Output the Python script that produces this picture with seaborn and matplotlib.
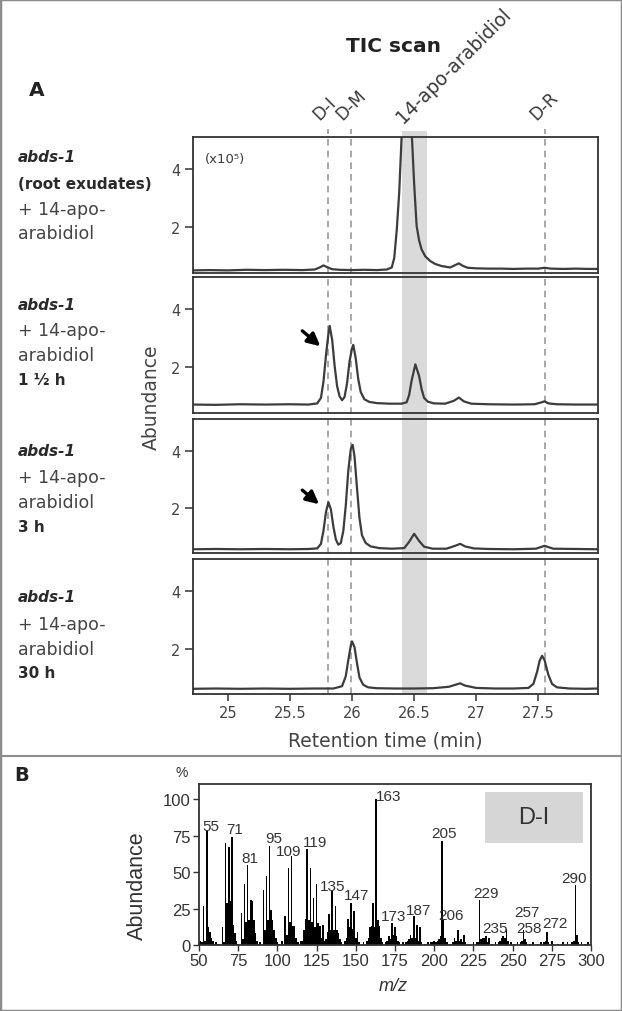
import matplotlib
matplotlib.use("Agg")
import matplotlib.pyplot as plt
import matplotlib.transforms as mtransforms
from matplotlib.patches import Rectangle
from matplotlib.lines import Line2D
import seaborn as sns

# ---------------- data ----------------
rt_ticks = [25, 25.5, 26, 26.5, 27, 27.5]
rt_tick_labels = ["25", "25.5", "26", "26.5", "27", "27.5"]
abund_ticks = [2, 4]
peak_names = ["D-I", "D-M", "D-R"]
peak_rt = [25.81, 25.99, 27.55]
apo_name = "14-apo-arabidiol"
apo_band = [26.40, 26.60]

t_root = [24.72, 24.85, 25.0, 25.15, 25.3, 25.45, 25.6, 25.7, 25.74, 25.77, 25.80, 25.84, 25.9, 26.0, 26.1,
          26.2, 26.28, 26.32, 26.34, 26.36, 26.38, 26.40, 26.44, 26.48, 26.50, 26.52, 26.54, 26.56, 26.59,
          26.63, 26.67, 26.72, 26.79, 26.83, 26.86, 26.89, 26.93, 27.0, 27.1, 27.2, 27.3, 27.4, 27.5, 27.55,
          27.6, 27.7, 27.8, 27.9, 27.98]
a_root = [0.52, 0.53, 0.52, 0.54, 0.53, 0.54, 0.53, 0.55, 0.62, 0.69, 0.63, 0.56, 0.54, 0.53, 0.54,
          0.53, 0.55, 0.62, 0.95, 1.9, 3.2, 5.2, 8.0, 5.3, 3.5, 2.05, 1.55, 1.24, 1.0,
          0.84, 0.74, 0.67, 0.62, 0.70, 0.76, 0.68, 0.61, 0.59, 0.58, 0.58, 0.57, 0.58, 0.58, 0.61,
          0.58, 0.57, 0.58, 0.57, 0.57]

t_15h = [24.72, 24.9, 25.1, 25.3, 25.5, 25.65, 25.72, 25.75, 25.77, 25.79, 25.81, 25.82, 25.84, 25.86,
         25.88, 25.90, 25.92, 25.94, 25.96, 25.98, 26.00, 26.01, 26.03, 26.05, 26.07, 26.10, 26.14, 26.2,
         26.3, 26.4, 26.44, 26.46, 26.48, 26.51, 26.54, 26.56, 26.58, 26.61, 26.66, 26.75, 26.82, 26.86,
         26.9, 26.96, 27.1, 27.3, 27.47, 27.52, 27.55, 27.58, 27.65, 27.8, 27.98]
a_15h = [0.72, 0.71, 0.73, 0.72, 0.73, 0.72, 0.76, 0.95, 1.5, 2.4, 3.15, 3.42, 2.95, 2.05,
         1.35, 1.0, 0.87, 0.98, 1.45, 2.2, 2.65, 2.77, 2.3, 1.6, 1.15, 0.9, 0.81, 0.77,
         0.75, 0.75, 0.8, 1.05, 1.55, 2.1, 1.7, 1.25, 0.95, 0.82, 0.76, 0.75, 0.85, 0.96,
         0.83, 0.75, 0.73, 0.72, 0.73, 0.79, 0.83, 0.76, 0.73, 0.72, 0.72]

t_3h = [24.72, 24.9, 25.1, 25.3, 25.5, 25.65, 25.72, 25.75, 25.77, 25.79, 25.81, 25.83, 25.85, 25.87,
        25.89, 25.91, 25.93, 25.95, 25.97, 25.99, 26.005, 26.02, 26.04, 26.06, 26.08, 26.11, 26.15, 26.22,
        26.32, 26.42, 26.46, 26.50, 26.54, 26.58, 26.65, 26.76, 26.83, 26.87, 26.91, 26.98, 27.1, 27.3,
        27.48, 27.55, 27.62, 27.8, 27.98]
a_3h = [0.56, 0.57, 0.56, 0.57, 0.56, 0.57, 0.59, 0.75, 1.2, 1.85, 2.2, 1.95, 1.35, 0.9,
        0.72, 0.78, 1.2, 2.1, 3.3, 4.05, 4.2, 3.8, 2.7, 1.65, 1.05, 0.78, 0.66, 0.6,
        0.58, 0.6, 0.82, 1.1, 0.85, 0.65, 0.58, 0.58, 0.68, 0.75, 0.66, 0.59, 0.57, 0.56,
        0.58, 0.68, 0.58, 0.57, 0.56]

t_30h = [24.72, 24.9, 25.1, 25.3, 25.5, 25.7, 25.85, 25.92, 25.95, 25.97, 25.99, 26.00, 26.02, 26.04,
         26.06, 26.09, 26.13, 26.2, 26.35, 26.5, 26.65, 26.78, 26.84, 26.87, 26.91, 27.0, 27.15, 27.3,
         27.42, 27.46, 27.49, 27.51, 27.53, 27.55, 27.58, 27.61, 27.65, 27.75, 27.88, 27.98]
a_30h = [0.61, 0.62, 0.61, 0.62, 0.61, 0.62, 0.62, 0.7, 1.05, 1.6, 2.1, 2.25, 2.05, 1.5,
         1.0, 0.75, 0.66, 0.63, 0.62, 0.62, 0.63, 0.68, 0.76, 0.8, 0.72, 0.64, 0.62, 0.62,
         0.64, 0.78, 1.2, 1.58, 1.75, 1.6, 1.1, 0.78, 0.66, 0.62, 0.61, 0.62]

sample_text = [
    [("abds-1", "bi"), ("(root exudates)", "b"), ("+ 14-apo-", "r"), ("arabidiol", "r")],
    [("abds-1", "bi"), ("+ 14-apo-", "r"), ("arabidiol", "r"), ("1 ½ h", "b")],
    [("abds-1", "bi"), ("+ 14-apo-", "r"), ("arabidiol", "r"), ("3 h", "b")],
    [("abds-1", "bi"), ("+ 14-apo-", "r"), ("arabidiol", "r"), ("30 h", "b")],
]

# mass spectrum of D-I
spec_mz = [50, 51, 52, 53, 54, 55, 56, 57, 58, 59,
           60, 61, 62, 63, 65, 66, 67, 68, 69, 70,
           71, 72, 73, 74, 75, 77, 78, 79, 80, 81,
           82, 83, 84, 85, 86, 87, 88, 89, 91, 92,
           93, 94, 95, 96, 97, 98, 99, 100, 101, 103,
           105, 106, 107, 108, 109, 110, 111, 112, 113, 115,
           116, 117, 118, 119, 120, 121, 122, 123, 124, 125,
           126, 127, 128, 129, 130, 131, 132, 133, 134, 135,
           136, 137, 138, 139, 140, 141, 143, 144, 145, 146,
           147, 148, 149, 150, 151, 152, 155, 157, 158, 159,
           160, 161, 162, 163, 164, 165, 166, 167, 169, 170,
           171, 172, 173, 174, 175, 176, 177, 178, 180, 181,
           182, 183, 184, 185, 186, 187, 188, 189, 190, 191,
           192, 194, 196, 198, 199, 200, 201, 202, 203, 204,
           205, 206, 207, 208, 210, 212, 213, 214, 215, 216,
           217, 218, 219, 220, 222, 225, 227, 228, 229, 230,
           231, 232, 233, 234, 235, 237, 239, 241, 242, 243,
           244, 245, 246, 247, 249, 251, 253, 255, 256, 257,
           258, 259, 261, 263, 266, 268, 270, 271, 272, 273,
           275, 276, 279, 282, 285, 288, 289, 290, 291, 292,
           294, 296, 298]
spec_int = [2, 3, 2, 27, 3, 78, 12, 9, 5, 3,
            1, 2, 1, 1, 12, 2, 70, 29, 67, 30,
            74, 14, 8, 3, 1, 22, 4, 42, 16, 55,
            17, 31, 30, 17, 8, 3, 1, 2, 38, 10,
            47, 17, 68, 24, 17, 10, 5, 2, 1, 3,
            20, 7, 53, 16, 61, 13, 13, 5, 2, 3,
            3, 10, 18, 66, 17, 53, 16, 32, 12, 42,
            15, 13, 5, 14, 3, 4, 9, 21, 10, 37,
            10, 27, 10, 8, 4, 2, 3, 5, 18, 12,
            29, 11, 23, 5, 9, 2, 2, 3, 5, 12,
            13, 29, 12, 100, 17, 13, 5, 2, 2, 3,
            6, 4, 15, 7, 12, 6, 3, 2, 2, 1,
            2, 3, 4, 7, 5, 20, 5, 14, 3, 12,
            2, 1, 2, 2, 2, 3, 2, 3, 4, 6,
            71, 17, 5, 2, 1, 2, 5, 3, 10, 3,
            4, 2, 7, 2, 1, 2, 2, 2, 31, 4,
            5, 5, 6, 2, 5, 1, 2, 2, 3, 5,
            6, 5, 11, 3, 2, 1, 2, 2, 3, 10,
            4, 2, 1, 2, 1, 2, 2, 3, 9, 2,
            3, 1, 1, 2, 2, 2, 3, 41, 7, 2,
            2, 1, 2]
peak_labels = [55, 71, 81, 95, 109, 119, 135, 147, 163, 173, 187, 205, 206, 229, 235, 257, 258, 272, 290]
mz_ticks = [50, 75, 100, 125, 150, 175, 200, 225, 250, 275, 300]
pct_ticks = [0, 25, 50, 75, 100]

# ---------------- style ----------------
sns.set_theme(style="ticks")
plt.rcParams["font.family"] = ["DejaVu Sans"]
ARIAL = ["Liberation Sans", "DejaVu Sans"]
W, H = 622, 1012
fig = plt.figure(figsize=(W / 100, H / 100), dpi=100)
fig.patch.set_facecolor("white")


def fx(x):
    return x / W


def fy(y):
    return 1 - y / H


TXT = "#3a3a3a"
SPINE = "#333333"

# ---------------- panel A ----------------
panel_px = [(138, 274), (278, 414), (420, 554), (560, 695)]
traces = [(t_root, a_root), (t_15h, a_15h), (t_3h, a_3h), (t_30h, a_30h)]
L, R = 193, 598
axes = []
for i, ((top, bot), (tt, aa)) in enumerate(zip(panel_px, traces)):
    ax = fig.add_axes([fx(L), fy(bot), (R - L) / W, (bot - top) / H])
    ax.set_facecolor("none")
    sns.lineplot(x=tt, y=aa, ax=ax, color="#3c3c3c", linewidth=1.6, estimator=None, sort=False)
    ax.set_xlim(24.72, 27.98)
    ax.set_ylim(0.43, 5.1)
    ax.set_yticks(abund_ticks)
    ax.set_yticklabels([str(v) for v in abund_ticks])
    ax.set_xticks(rt_ticks)
    ax.set_xlabel("")
    ax.set_ylabel("")
    for s in ax.spines.values():
        s.set_visible(True)
        s.set_color(SPINE)
        s.set_linewidth(1.3)
    ax.tick_params(axis="y", direction="out", length=6, width=1.1, color=SPINE,
                   labelsize=10.5, labelcolor="#444444", pad=3)
    if i < 3:
        ax.tick_params(axis="x", bottom=False, labelbottom=False)
    else:
        ax.set_xticklabels(rt_tick_labels)
        ax.tick_params(axis="x", direction="out", length=5, width=1.1, color=SPINE,
                       labelsize=10.5, labelcolor="#444444", pad=3)
    axes.append(ax)

# dashed reference lines and highlighted band across all panels
trans = mtransforms.blended_transform_factory(axes[-1].transData, fig.transFigure)
for rt in peak_rt:
    fig.add_artist(Line2D([rt, rt], [fy(695), fy(130)], transform=trans, color="#9a9a9a",
                          lw=1.2, ls=(0, (4, 3)), zorder=-1))
fig.add_artist(Rectangle((apo_band[0], fy(695)), apo_band[1] - apo_band[0], fy(132) - fy(695),
                         transform=trans, facecolor="#dadada", edgecolor="none", zorder=-2))

# rotated peak names
for name, rt in zip(peak_names + [apo_name], peak_rt + [sum(apo_band) / 2]):
    if name == apo_name:
        dxp, fs, ypx = -8, 13.5, 127
    else:
        dxp, fs, ypx = -6, 12.5, 124
    axes[0].annotate(name, xy=(rt, fy(ypx)), xycoords=trans, xytext=(dxp * 0.72, 0),
                     textcoords="offset points", rotation=45, rotation_mode="anchor",
                     ha="left", va="bottom", fontsize=fs, color=TXT, annotation_clip=False)

axes[0].text(0.03, 0.84, "(x10⁵)", transform=axes[0].transAxes, fontsize=9.5, color=TXT,
             ha="left", va="center", family=["DejaVu Sans"])

# arrows
axes[1].annotate("", xy=(25.745, 2.72), xytext=(25.60, 3.25),
                 arrowprops=dict(arrowstyle="-|>", color="black", lw=2.4, mutation_scale=19,
                                 shrinkA=0, shrinkB=0))
axes[2].annotate("", xy=(25.735, 2.13), xytext=(25.60, 2.62),
                 arrowprops=dict(arrowstyle="-|>", color="black", lw=2.4, mutation_scale=19,
                                 shrinkA=0, shrinkB=0))

# sample descriptions at left
line_y = [[158, 185, 210, 234], [306, 331, 356, 381], [452, 478, 503, 528], [597, 625, 650, 673]]
for lines, ys in zip(sample_text, line_y):
    for (txt, kind), y in zip(lines, ys):
        if kind == "bi":
            kw = dict(weight="bold", style="italic", fontsize=11, color="#2a2a2a")
        elif kind == "b":
            kw = dict(weight="bold", fontsize=11, color="#2a2a2a")
        else:
            kw = dict(fontsize=12.5, color="#444444")
        fig.text(fx(18), fy(y), txt, ha="left", va="center", **kw)

fig.text(fx(393), fy(47), "TIC scan", ha="center", va="center", fontsize=14.5, weight="bold", color="#222222")
fig.text(fx(37), fy(91), "A", ha="center", va="center", fontsize=14.5, weight="bold", color="#222222")
fig.text(fx(151), fy(397), "Abundance", ha="center", va="center", rotation=90, fontsize=13.5, color="#444444")
fig.text(fx(385), fy(741), "Retention time (min)", ha="center", va="center", fontsize=13.5, color="#444444")

# ---------------- panel B ----------------
axB = fig.add_axes([fx(199), fy(946), (591 - 199) / W, (946 - 785) / H])
axB.set_facecolor("none")
sns.histplot(x=spec_mz, weights=spec_int, discrete=True, shrink=1.0, ax=axB,
             color="black", edgecolor="none", linewidth=0, alpha=1.0)
axB.set_xlim(50, 300)
axB.set_ylim(0, 110.3)
axB.set_xticks(mz_ticks)
axB.set_yticks(pct_ticks)
axB.set_xlabel("")
axB.set_ylabel("")
for s in axB.spines.values():
    s.set_visible(True)
    s.set_color(SPINE)
    s.set_linewidth(1.3)
axB.tick_params(axis="both", direction="out", length=4, width=1.0, color=SPINE,
                labelsize=12, labelcolor="#333333", pad=2)
for lab in axB.get_xticklabels() + axB.get_yticklabels():
    lab.set_family(ARIAL)

label_offsets = {55: (2.7, 1), 71: (1.5, 3), 81: (1.3, 2), 95: (2.7, 2.5), 109: (-1.6, 1),
                 119: (4.8, 2), 135: (0, 1), 147: (3.3, 2.5), 163: (8, -1), 173: (1.2, 2),
                 187: (3, 1), 205: (1.2, 3), 206: (4.6, 1), 229: (3.9, 1.6), 235: (3.6, 4),
                 257: (2.2, 10), 258: (2.3, 5), 272: (5, 3), 290: (-1, 2)}
heights = dict(zip(spec_mz, spec_int))
for lab in peak_labels:
    dx, dy = label_offsets[lab]
    axB.text(lab + dx, heights[lab] + dy, str(lab), ha="center", va="baseline",
             fontsize=11, color="#333333", family=ARIAL)

axB.add_patch(Rectangle((0.730, 0.634), 0.25, 0.316, transform=axB.transAxes,
                        facecolor="#d6d6d6", edgecolor="none", zorder=1))
axB.text(0.855, 0.792, "D-I", transform=axB.transAxes, ha="center", va="center",
         fontsize=17, color="#333333", family=ARIAL, zorder=2)

fig.text(fx(182), fy(773), "%", ha="center", va="center", fontsize=10, color="#333333", family=ARIAL)
fig.text(fx(137), fy(886), "Abundance", ha="center", va="center", rotation=90, fontsize=15.5,
         color="#333333", family=ARIAL)
fig.text(fx(393), fy(987), "m/z", ha="center", va="center", fontsize=13, style="italic",
         color="#333333", family=ARIAL)
fig.text(fx(22), fy(776), "B", ha="center", va="center", fontsize=14, weight="bold", color="#222222")

# frame and divider
fig.add_artist(Rectangle((0, 0), 1, 1, transform=fig.transFigure, fill=False,
                         edgecolor="#8c8c8c", lw=2.5))
fig.add_artist(Line2D([0, 1], [fy(757), fy(757)], transform=fig.transFigure, color="#8c8c8c", lw=1.5))

fig.savefig("out.png", dpi=100, facecolor="white")
